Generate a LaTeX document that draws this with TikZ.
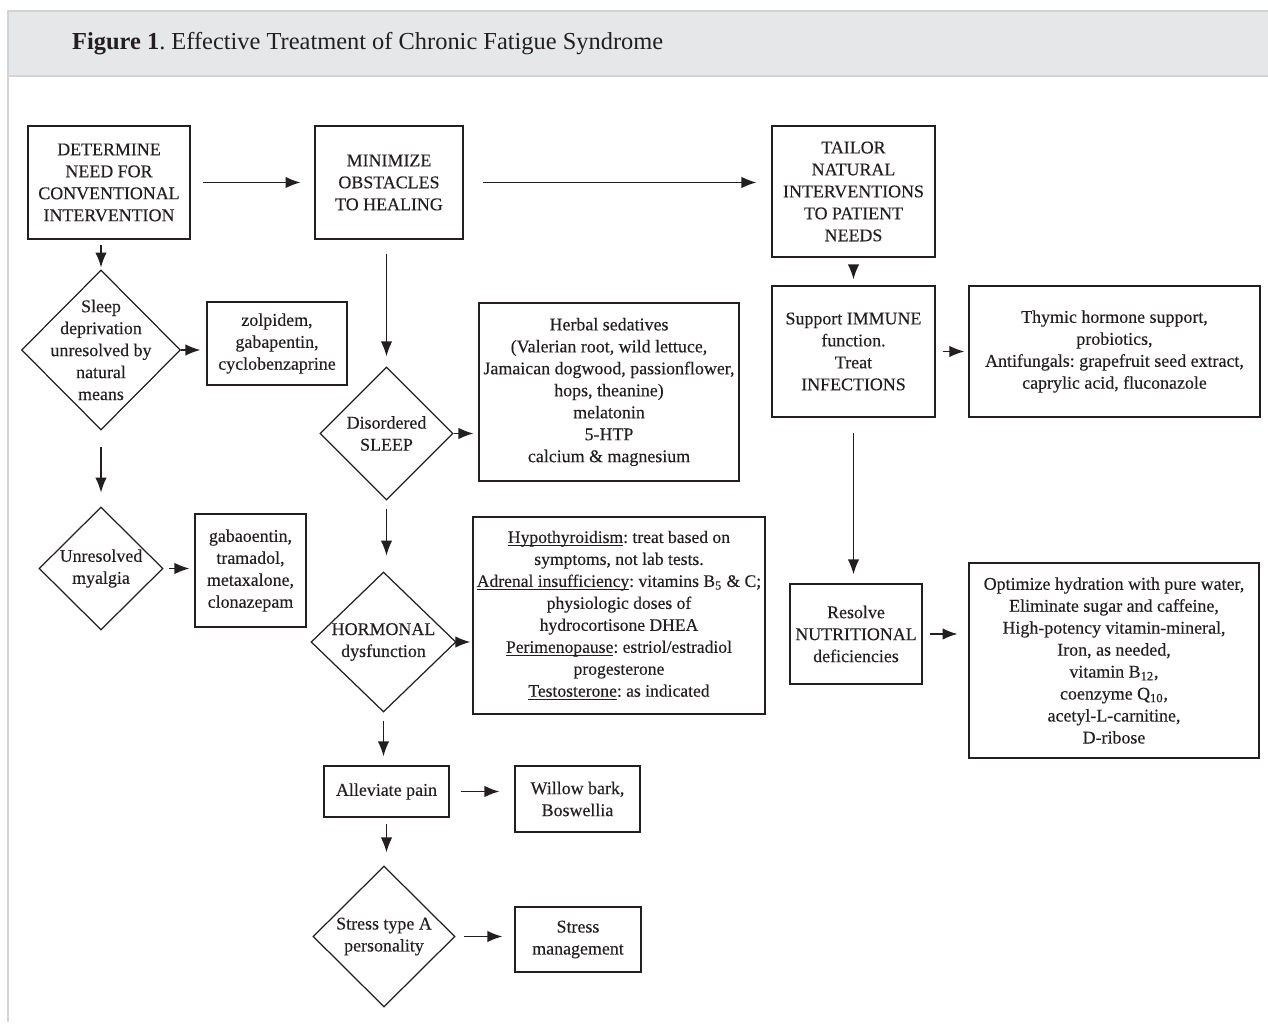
\documentclass[tikz,border=0pt]{standalone}
\usepackage{fontspec}
\setmainfont{Liberation Serif}
\newfontfamily\boxfont{Liberation Serif}[FakeBold=0.3]
\usetikzlibrary{shapes.geometric,arrows.meta}
\definecolor{framegray}{HTML}{D1D3D4}
\definecolor{bandgray}{HTML}{E6E7E8}
\definecolor{ink}{HTML}{231F20}
\newcommand\ulword[1]{\underline{\smash{#1}}}
\frenchspacing
\begin{document}
\begin{tikzpicture}[x=0.02cm,y=-0.02cm,
  every node/.style={font=\boxfont\fontsize{10.2}{12.5}\selectfont, text=ink},
  box/.style={draw=ink, line width=0.8pt, align=center, inner sep=0.5pt},
  dia/.style={diamond, draw=ink, line width=0.7pt, inner sep=0pt},
  arr/.style={-{Latex[length=8.5pt,width=6.5pt]}, draw=ink, line width=0.7pt}]
\useasboundingbox (0,0) rectangle (1268,1026);
% frame and title band
\fill[bandgray] (7,10) rectangle (1268,76);
\draw[framegray, line width=1.4pt] (7,11) -- (1268,11);
\draw[framegray, line width=0.6pt] (7,76) -- (1268,76);
\draw[framegray, line width=1.4pt] (8,10) -- (8,1022);
\node[anchor=west, font=\rmfamily\fontsize{13.9}{16}\selectfont] (title) at (66,44)
  {\textbf{Figure 1}. Effective Treatment of Chronic Fatigue Syndrome};

% top row
\node[box, minimum width=3.24cm, minimum height=2.26cm] (det) at (109,182.5)
  {DETERMINE\\NEED FOR\\CONVENTIONAL\\INTERVENTION};
\node[box, minimum width=2.96cm, minimum height=2.26cm] (min) at (389,182.5)
  {MINIMIZE\\OBSTACLES\\TO HEALING};
\node[box, minimum width=3.26cm, minimum height=2.62cm] (tailor) at (853.5,191.5)
  {TAILOR\\NATURAL\\INTERVENTIONS\\TO PATIENT\\NEEDS};

% conventional column
\node[dia, minimum width=3.18cm, minimum height=3.2cm,
  label={[align=center]center:Sleep\\deprivation\\unresolved by\\natural\\means}] (sleep) at (101,350) {};
\node[box, minimum width=2.8cm, minimum height=1.66cm] (zolp) at (277,343.5)
  {zolpidem,\\gabapentin,\\cyclobenzaprine};
\node[dia, minimum width=2.48cm, minimum height=2.46cm,
  label={[align=center]center:Unresolved\\myalgia}] (myal) at (101,568.5) {};
\node[box, minimum width=2.22cm, minimum height=2.26cm] (gaba) at (250.5,570.5)
  {gabaoentin,\\tramadol,\\metaxalone,\\clonazepam};

% obstacles column
\node[dia, minimum width=2.66cm, minimum height=2.66cm,
  label={[align=center]center:Disordered\\SLEEP}] (dis) at (386.5,433.5) {};
\node[box, minimum width=5.2cm, minimum height=3.56cm] (herbal) at (609,392)
  {Herbal sedatives\\(Valerian root, wild lettuce,\\Jamaican dogwood, passionflower,\\hops, theanine)\\melatonin\\5-HTP\\calcium \& magnesium};
\node[dia, minimum width=2.9cm, minimum height=2.8cm,
  label={[align=center]center:HORMONAL\\dysfunction}] (horm) at (383.5,642) {};
\node[box, minimum width=5.84cm, minimum height=3.94cm,
  font=\boxfont\fontsize{10}{12.5}\selectfont] (hypo) at (619,615.5)
  {\ulword{Hypothyroidism}: treat based on\\symptoms, not lab tests.\\\ulword{Adrenal insufficiency}: vitamins B\textsubscript{5} \& C;\\physiologic doses of\\hydrocortisone DHEA\\\ulword{Perimenopause}: estriol/estradiol\\progesterone\\\ulword{Testosterone}: as indicated};
\node[box, minimum width=2.5cm, minimum height=1.02cm] (allev) at (386.5,791.5)
  {Alleviate pain};
\node[box, minimum width=2.5cm, minimum height=1.32cm] (willow) at (577.5,799)
  {Willow bark,\\Boswellia};
\node[dia, minimum width=2.84cm, minimum height=2.82cm,
  label={[align=center]center:Stress type A\\personality}] (stress) at (384,936.5) {};
\node[box, minimum width=2.52cm, minimum height=1.3cm] (mgmt) at (578,939.5)
  {Stress\\management};

% natural column
\node[box, minimum width=3.26cm, minimum height=2.62cm] (immune) at (853.5,351.5)
  {Support IMMUNE\\function.\\Treat\\INFECTIONS};
\node[box, minimum width=5.82cm, minimum height=2.62cm] (thymic) at (1114.5,351.5)
  {Thymic hormone support,\\probiotics,\\Antifungals: grapefruit seed extract,\\caprylic acid, fluconazole};
\node[box, minimum width=2.64cm, minimum height=2cm] (nutr) at (856,634)
  {Resolve\\NUTRITIONAL\\deficiencies};
\node[box, minimum width=5.8cm, minimum height=3.9cm] (opt) at (1114,660.5)
  {Optimize hydration with pure water,\\Eliminate sugar and caffeine,\\High-potency vitamin-mineral,\\Iron, as needed,\\vitamin B\textsubscript{12},\\coenzyme Q\textsubscript{10},\\acetyl-L-carnitine,\\D-ribose};

% connectors
\draw[arr, shorten <=6.8pt, shorten >=7.9pt] (det) -- (min);
\draw[arr, shorten <=10.8pt, shorten >=8.5pt] (min) -- (min -| tailor.west);
\draw[arr, shorten <=2.8pt, shorten >=1.1pt] (sleep |- det.south) -- (sleep);
\draw[arr, shorten >=3.4pt] (sleep) -- (sleep -| zolp.west);
\draw[arr, shorten <=9.6pt, shorten >=7.9pt] (sleep) -- (myal);
\draw[arr, shorten <=2.8pt, shorten >=2.8pt] (myal) -- (myal -| gaba.west);
\draw[arr, shorten <=7.9pt, shorten >=5.7pt] (dis |- min.south) -- (dis);
\draw[arr, shorten >=2.8pt] (dis) -- (dis -| herbal.west);
\draw[arr, shorten <=4.5pt, shorten >=9pt] (dis) -- (dis |- horm.north);
\draw[arr, shorten >=1.2pt] (horm) -- (horm -| hypo.west);
\draw[arr, shorten <=4.5pt, shorten >=5.1pt] (horm) -- (horm |- allev.north);
\draw[arr, shorten <=6.2pt, shorten >=8.5pt] (allev) -- (allev -| willow.west);
\draw[arr, shorten <=3.4pt, shorten >=7.4pt] (allev) -- (allev |- stress.north);
\draw[arr, shorten <=4.5pt, shorten >=6.8pt] (stress) -- (stress -| mgmt.west);
\draw[arr, shorten <=4.5pt, shorten >=3.4pt] (tailor) -- (immune);
\draw[arr, shorten <=4pt, shorten >=2.3pt] (immune) -- (thymic);
\draw[arr, shorten <=9pt, shorten >=5.1pt] (immune) -- (immune |- nutr.north);
\draw[arr, shorten <=4pt, shorten >=6.2pt] (nutr) -- (nutr -| opt.west);
\end{tikzpicture}
\end{document}
